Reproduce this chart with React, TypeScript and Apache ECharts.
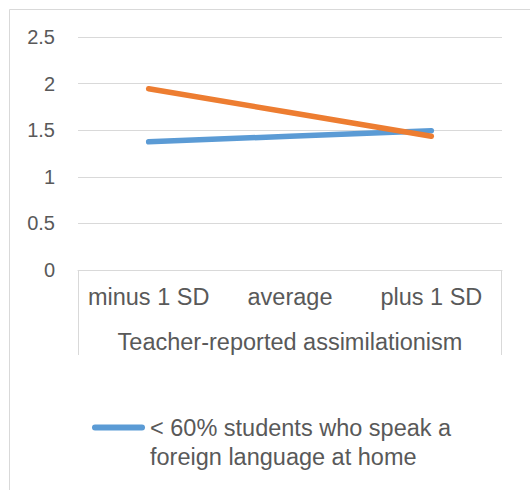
import React, { useEffect, useRef } from "react";
import * as echarts from "echarts";

const categories = ["minus 1 SD", "average", "plus 1 SD"];
const lowShareValues = [1.375, 1.435, 1.495];
const highShareValues = [1.945, 1.69, 1.435];
const yTicks = { min: 0, max: 2.5, interval: 0.5 };
const seriesNames = [
  "< 60% students who speak a\nforeign language at home",
  "≥ 60% students who speak a\nforeign language at home",
];
const xAxisTitle = "Teacher-reported assimilationism";

const GRID_LEFT = 78;
const GRID_RIGHT = 28;
const GRID_TOP = 37;
const GRID_BOTTOM = 220;
const W = 530;
const H = 490;
const GRAY = "#d9d9d9";
const TEXT = "#595959";
const FONT = "'Liberation Sans', Arial, sans-serif";
const LEGEND_ICON = "path://M3,0 L50,0 A3,3 0 0 1 50,6 L3,6 A3,3 0 0 1 3,0 Z M0,35 L0,35";

export default function App() {
  const ref = useRef<HTMLDivElement>(null);
  useEffect(() => {
    if (!ref.current) return;
    const chart = echarts.init(ref.current, null, { renderer: "svg" });
    const axisY = H - GRID_BOTTOM;
    const rightX = W - GRID_RIGHT;
    chart.setOption({
      animation: false,
      backgroundColor: "#ffffff",
      textStyle: { fontFamily: FONT },
      grid: { left: GRID_LEFT, right: GRID_RIGHT, top: GRID_TOP, bottom: GRID_BOTTOM, containLabel: false },
      xAxis: {
        type: "category",
        data: categories,
        boundaryGap: true,
        axisLine: { show: true, lineStyle: { color: GRAY, width: 1 } },
        axisTick: { show: false },
        axisLabel: { color: TEXT, fontSize: 23.5, fontFamily: FONT, margin: 15, interval: 0 },
        splitLine: { show: false },
        name: xAxisTitle,
        nameLocation: "middle",
        nameGap: 60,
        nameTextStyle: { color: TEXT, fontSize: 23.5, fontFamily: FONT },
      },
      yAxis: {
        type: "value",
        min: yTicks.min,
        max: yTicks.max,
        interval: yTicks.interval,
        axisLine: { show: false },
        axisTick: { show: false },
        axisLabel: { color: TEXT, fontSize: 20, fontFamily: FONT, margin: 23 },
        splitLine: { show: true, lineStyle: { color: GRAY, width: 1 } },
      },
      legend: {
        data: [seriesNames[0]],
        left: 87,
        top: 408,
        itemWidth: 53,
        itemHeight: 35,
        icon: LEGEND_ICON,
        itemStyle: { color: "#5b9bd5", borderWidth: 0 },
        textStyle: { color: TEXT, fontSize: 23.5, fontFamily: FONT, lineHeight: 29 },
      },
      series: [
        {
          name: seriesNames[0],
          type: "line",
          data: lowShareValues,
          symbol: "none",
          smooth: false,
          itemStyle: { color: "#5b9bd5" },
          lineStyle: { color: "#5b9bd5", width: 5.5, cap: "round" },
        },
        {
          name: seriesNames[1],
          type: "line",
          data: highShareValues,
          symbol: "none",
          smooth: false,
          itemStyle: { color: "#ed7d31" },
          lineStyle: { color: "#ed7d31", width: 5.5, cap: "round" },
        },
      ],
      graphic: [
        {
          type: "rect",
          shape: { x: 9.5, y: 9.5, width: 700, height: 700 },
          style: { fill: "none", stroke: GRAY, lineWidth: 1 },
          silent: true,
        },
        {
          type: "line",
          shape: { x1: GRID_LEFT + 0.5, y1: axisY, x2: GRID_LEFT + 0.5, y2: 355 },
          style: { stroke: GRAY, lineWidth: 1 },
          silent: true,
        },
        {
          type: "line",
          shape: { x1: rightX - 0.5, y1: axisY, x2: rightX - 0.5, y2: 355 },
          style: { stroke: GRAY, lineWidth: 1 },
          silent: true,
        },
      ],
    });
    return () => chart.dispose();
  }, []);
  return (
    <div
      ref={ref}
      style={{ position: "fixed", left: 0, top: 0, width: W, height: H }}
    />
  );
}
